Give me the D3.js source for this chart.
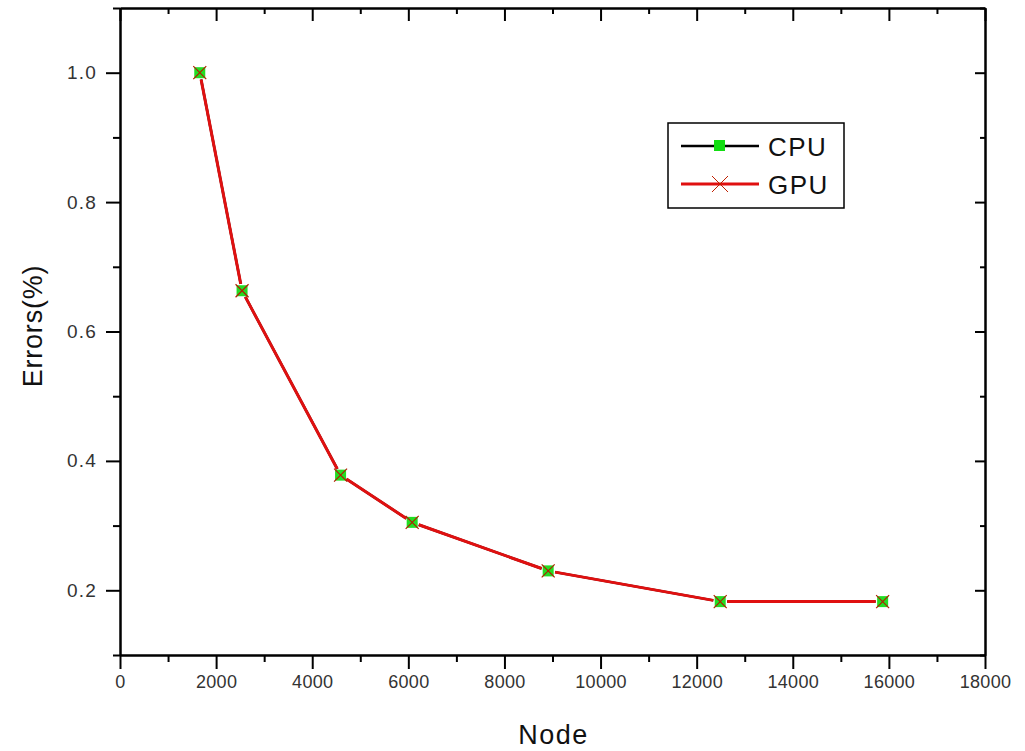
<!DOCTYPE html>
<html>
<head>
<meta charset="utf-8">
<script src="https://cdn.jsdelivr.net/npm/d3@7"></script>
<style>
  body { margin: 0; background: #fff; }
  svg { font-family: "Liberation Sans", Arial, sans-serif; }
</style>
</head>
<body>
<script>
// data
var nodes = [1660, 2540, 4590, 6080, 8910, 12490, 15870];
var cpuErrors = [1.0, 0.663, 0.378, 0.305, 0.230, 0.1825, 0.1825];
var gpuErrors = [1.0, 0.663, 0.378, 0.305, 0.230, 0.1825, 0.1825];
var seriesNames = ["CPU", "GPU"];
var xMajor = [0, 2000, 4000, 6000, 8000, 10000, 12000, 14000, 16000, 18000];
var xMinor = [1000, 3000, 5000, 7000, 9000, 11000, 13000, 15000, 17000];
var yMajor = [0.2, 0.4, 0.6, 0.8, 1.0];
var yMinor = [0.1, 0.3, 0.5, 0.7, 0.9, 1.1];

var W = 1025, H = 751;
var mLeft = 120, mRight = 985, mTop = 8, mBottom = 655;

var svg = d3.select("body").append("svg")
    .attr("width", W)
    .attr("height", H);

var x = d3.scaleLinear().domain([0, 18000]).range([mLeft, mRight]);
var y = d3.scaleLinear().domain([0.1, 1.1]).range([mBottom, mTop]);

// axes - bottom/left ticks outward, top/right inward
function styleAxis(g) {
    g.select(".domain").attr("stroke", "#000").attr("stroke-width", 2);
    g.selectAll(".tick line").attr("stroke", "#000").attr("stroke-width", 2);
    g.selectAll(".tick text").attr("fill", "#333").attr("font-size", 18)
        .attr("font-family", "Liberation Sans, Arial");
}

svg.append("g").attr("transform", "translate(0," + mBottom + ")")
    .call(d3.axisBottom(x).tickValues(xMajor).tickSize(14).tickSizeOuter(0).tickPadding(6).tickFormat(d3.format("d")))
    .call(styleAxis)
    .selectAll(".tick text").attr("letter-spacing", 0.3);
svg.append("g").attr("transform", "translate(0," + mBottom + ")")
    .call(d3.axisBottom(x).tickValues(xMinor).tickSize(7).tickFormat("").tickSizeOuter(0))
    .call(styleAxis);

svg.append("g").attr("transform", "translate(0," + mTop + ")")
    .call(d3.axisBottom(x).tickValues(xMajor).tickSize(13).tickFormat("").tickSizeOuter(0))
    .call(styleAxis);
svg.append("g").attr("transform", "translate(0," + mTop + ")")
    .call(d3.axisBottom(x).tickValues(xMinor).tickSize(6).tickFormat("").tickSizeOuter(0))
    .call(styleAxis);

svg.append("g").attr("transform", "translate(" + mLeft + ",0)")
    .call(d3.axisLeft(y).tickValues(yMajor).tickSize(14).tickSizeOuter(0).tickPadding(9).tickFormat(d3.format(".1f")))
    .call(styleAxis)
    .selectAll(".tick text").attr("font-size", 19).attr("letter-spacing", 1.2);
svg.append("g").attr("transform", "translate(" + mLeft + ",0)")
    .call(d3.axisLeft(y).tickValues(yMinor).tickSize(7).tickFormat("").tickSizeOuter(0))
    .call(styleAxis);

svg.append("g").attr("transform", "translate(" + mRight + ",0)")
    .call(d3.axisLeft(y).tickValues(yMajor).tickSize(10).tickFormat("").tickSizeOuter(0))
    .call(styleAxis);
svg.append("g").attr("transform", "translate(" + mRight + ",0)")
    .call(d3.axisLeft(y).tickValues(yMinor).tickSize(5).tickFormat("").tickSizeOuter(0))
    .call(styleAxis);

// axis titles
svg.append("text").text("Node")
    .attr("x", (mLeft + mRight) / 2 + 1).attr("y", 744)
    .attr("text-anchor", "middle")
    .attr("font-size", 27).attr("letter-spacing", 1.5).attr("fill", "#111");

svg.append("text").text("Errors(%)")
    .attr("transform", "translate(42,326) rotate(-90)")
    .attr("text-anchor", "middle")
    .attr("font-size", 27).attr("letter-spacing", 0.8).attr("fill", "#111");

// line segments leave a small gap at each marker
var gap = 7;
function segments(vals) {
    var segs = [];
    for (var i = 0; i < nodes.length - 1; i++) {
        var x1 = x(nodes[i]), y1 = y(vals[i]);
        var x2 = x(nodes[i + 1]), y2 = y(vals[i + 1]);
        var len = Math.sqrt((x2 - x1) * (x2 - x1) + (y2 - y1) * (y2 - y1));
        var ux = (x2 - x1) / len, uy = (y2 - y1) / len;
        segs.push({x1: x1 + ux * gap, y1: y1 + uy * gap, x2: x2 - ux * gap, y2: y2 - uy * gap});
    }
    return segs;
}

svg.selectAll(".cpuseg").data(segments(cpuErrors)).enter().append("line")
    .attr("class", "cpuseg")
    .attr("x1", function(d) { return d.x1; }).attr("y1", function(d) { return d.y1; })
    .attr("x2", function(d) { return d.x2; }).attr("y2", function(d) { return d.y2; })
    .attr("stroke", "#000").attr("stroke-width", 2.5);

svg.selectAll(".gpuseg").data(segments(gpuErrors)).enter().append("line")
    .attr("class", "gpuseg")
    .attr("x1", function(d) { return d.x1; }).attr("y1", function(d) { return d.y1; })
    .attr("x2", function(d) { return d.x2; }).attr("y2", function(d) { return d.y2; })
    .attr("stroke", "#e01010").attr("stroke-width", 3);

// CPU markers - green squares
var sq = 11;
svg.selectAll(".cpupt").data(cpuErrors).enter().append("rect")
    .attr("class", "cpupt")
    .attr("x", function(d, i) { return x(nodes[i]) - sq / 2; })
    .attr("y", function(d) { return y(d) - sq / 2; })
    .attr("width", sq).attr("height", sq)
    .attr("fill", "#22dd22");

// GPU markers - red crosses
var cx = 6.5;
svg.selectAll(".gpupt").data(gpuErrors).enter().append("path")
    .attr("class", "gpupt")
    .attr("d", function(d, i) {
        var px = x(nodes[i]), py = y(d);
        return "M" + (px - cx) + "," + (py - cx) + "L" + (px + cx) + "," + (py + cx) +
               "M" + (px - cx) + "," + (py + cx) + "L" + (px + cx) + "," + (py - cx);
    })
    .attr("stroke", "#b02000").attr("stroke-width", 1.2).attr("fill", "none");

// legend
var lg = svg.append("g");
lg.append("rect")
    .attr("x", 668).attr("y", 123).attr("width", 176).attr("height", 85)
    .attr("fill", "#fff").attr("stroke", "#000").attr("stroke-width", 1.5);

lg.append("line").attr("x1", 681).attr("x2", 759).attr("y1", 146).attr("y2", 146)
    .attr("stroke", "#000").attr("stroke-width", 2.5);
lg.append("rect").attr("x", 714).attr("y", 140).attr("width", sq).attr("height", sq)
    .attr("fill", "#11dd11");
lg.append("line").attr("x1", 681).attr("x2", 759).attr("y1", 184).attr("y2", 184)
    .attr("stroke", "#e01010").attr("stroke-width", 3);
lg.append("path")
    .attr("d", "M" + (720 - 8) + "," + (184 - 8) + "L" + (720 + 8) + "," + (184 + 8) +
               "M" + (720 - 8) + "," + (184 + 8) + "L" + (720 + 8) + "," + (184 - 8))
    .attr("stroke", "#c02000").attr("stroke-width", 1);

lg.selectAll(".lgtext").data(seriesNames).enter().append("text")
    .attr("class", "lgtext")
    .attr("x", 768)
    .attr("y", function(d, i) { return 156 + i * 38; })
    .attr("font-size", 26).attr("letter-spacing", 1.5).attr("fill", "#111")
    .text(function(d) { return d; });
</script>
</body>
</html>
